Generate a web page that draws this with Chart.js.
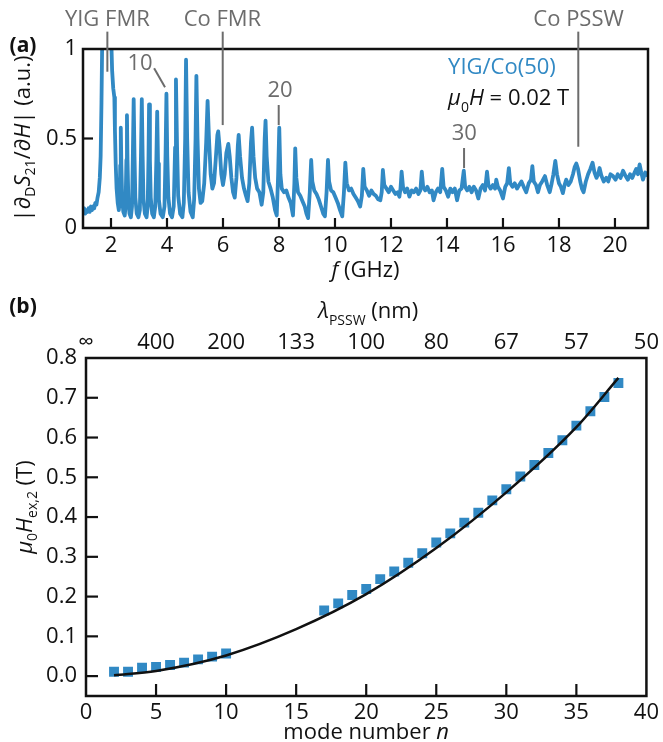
<!DOCTYPE html>
<html>
<head>
<meta charset="utf-8">
<script src="https://cdn.jsdelivr.net/npm/chart.js@4.4.1/dist/chart.umd.min.js"></script>
<style>
  html, body { margin: 0; padding: 0; background: #fff; }
  #wrap { position: relative; width: 663px; height: 742px; overflow: hidden; }
  canvas { position: absolute; left: 0; }
  #spec { top: 0; }
  #modes { top: 285px; }
</style>
</head>
<body>
<div id="wrap">
  <canvas id="spec" width="663" height="285"></canvas>
  <canvas id="modes" width="663" height="457"></canvas>
</div>
<script>
// (a) spectrum |dS21/dH| vs f
const freqGHz = [
  1.00,1.04,1.08,1.12,1.16,1.20,1.24,1.28,1.32,1.36,
  1.40,1.44,1.48,1.52,1.56,1.60,1.63,1.66,1.69,1.74,
  1.86,1.97,2.01,2.04,2.08,2.12,2.14,2.17,2.20,2.24,
  2.28,2.31,2.33,2.35,2.37,2.40,2.44,2.49,2.52,2.55,
  2.57,2.59,2.62,2.66,2.71,2.75,2.78,2.81,2.84,2.87,
  2.92,2.98,3.03,3.07,3.10,3.13,3.16,3.21,3.27,3.31,
  3.34,3.36,3.39,3.42,3.47,3.53,3.58,3.62,3.65,3.68,
  3.71,3.77,3.85,3.91,3.95,3.98,4.01,4.05,4.11,4.18,
  4.24,4.29,4.32,4.36,4.40,4.47,4.55,4.60,4.65,4.68,
  4.72,4.77,4.84,4.92,4.97,5.02,5.05,5.09,5.14,5.20,
  5.26,5.33,5.40,5.45,5.50,5.56,5.62,5.68,5.74,5.80,
  5.83,5.88,5.94,6.00,6.06,6.12,6.19,6.24,6.30,6.36,
  6.42,6.48,6.53,6.56,6.61,6.68,6.75,6.82,6.88,6.94,
  7.00,7.04,7.09,7.15,7.22,7.30,7.38,7.44,7.49,7.52,
  7.56,7.62,7.70,7.78,7.86,7.92,7.97,8.01,8.05,8.10,
  8.18,8.26,8.34,8.42,8.50,8.55,8.58,8.62,8.68,8.76,
  8.84,8.92,8.98,9.04,9.10,9.15,9.19,9.26,9.34,9.42,
  9.50,9.58,9.64,9.70,9.75,9.79,9.86,9.94,10.02,10.10,
  10.18,10.26,10.32,10.37,10.42,10.50,10.58,10.66,10.74,10.82,
  10.90,10.96,11.01,11.06,11.14,11.22,11.30,11.38,11.46,11.54,
  11.62,11.67,11.71,11.76,11.84,11.92,12.00,12.08,12.16,12.24,
  12.30,12.34,12.38,12.43,12.50,12.58,12.66,12.74,12.82,12.90,
  12.98,13.05,13.10,13.15,13.22,13.30,13.38,13.46,13.52,13.60,
  13.68,13.76,13.83,13.88,13.96,14.04,14.12,14.20,14.28,14.36,
  14.44,14.52,14.60,14.65,14.72,14.80,14.88,14.96,15.04,15.12,
  15.20,15.28,15.36,15.43,15.48,15.56,15.64,15.72,15.76,15.82,
  15.90,16.00,16.08,16.15,16.21,16.26,16.34,16.42,16.50,16.58,
  16.66,16.74,16.83,16.92,17.00,17.05,17.10,17.18,17.25,17.32,
  17.40,17.50,17.58,17.67,17.74,17.80,17.87,17.93,18.00,18.07,
  18.14,18.20,18.26,18.34,18.42,18.50,18.56,18.62,18.68,18.76,
  18.82,18.88,18.96,19.04,19.12,19.20,19.27,19.34,19.40,19.45,
  19.52,19.60,19.69,19.76,19.84,19.93,20.02,20.10,20.20,20.29,
  20.38,20.46,20.54,20.62,20.70,20.76,20.82,20.88,20.94,21.00,
  21.08,21.18
];
const dSdH = [
  .09,.11,.08,.10,.09,.11,.09,.12,.10,.12,
  .11,.14,.13,.17,.20,.28,.40,.70,1.10,1.50,
  1.60,1.50,1.05,.88,.78,.73,.55,.35,.22,.14,
  .10,.15,.35,.56,.35,.16,.09,.07,.12,.38,
  .63,.38,.16,.08,.06,.12,.40,.72,.40,.17,
  .08,.06,.10,.40,.72,.40,.16,.08,.06,.12,
  .40,.69,.38,.17,.08,.06,.12,.38,.65,.36,
  .16,.08,.06,.12,.42,.75,.40,.17,.08,.06,
  .12,.45,.83,.45,.18,.08,.06,.14,.50,.94,
  .50,.20,.09,.06,.16,.50,.85,.50,.22,.14,
  .15,.25,.48,.71,.50,.30,.22,.25,.38,.52,
  .54,.45,.30,.24,.30,.42,.47,.40,.28,.20,
  .17,.28,.46,.52,.40,.28,.22,.18,.15,.25,
  .48,.56,.40,.28,.22,.20,.13,.20,.50,.60,
  .40,.26,.22,.17,.10,.07,.30,.56,.30,.22,
  .20,.21,.17,.14,.07,.25,.445,.28,.20,.18,
  .15,.12,.08,.055,.20,.38,.26,.21,.19,.16,
  .12,.08,.065,.20,.38,.26,.21,.20,.17,.14,
  .10,.065,.20,.365,.25,.21,.22,.19,.17,.15,
  .12,.18,.33,.23,.21,.18,.21,.19,.18,.16,
  .155,.20,.324,.24,.22,.20,.23,.21,.19,.20,
  .175,.22,.315,.23,.20,.22,.175,.21,.20,.22,
  .19,.21,.315,.23,.21,.23,.20,.21,.155,.20,
  .22,.20,.33,.23,.21,.175,.22,.20,.22,.155,
  .21,.22,.32,.23,.21,.23,.20,.23,.21,.165,
  .22,.24,.21,.315,.24,.22,.24,.22,.27,.23,
  .21,.165,.23,.25,.335,.25,.23,.25,.22,.24,
  .26,.23,.20,.25,.27,.345,.26,.24,.20,.24,
  .26,.29,.24,.20,.25,.30,.375,.30,.25,.23,
  .195,.24,.27,.24,.26,.30,.34,.36,.33,.26,
  .22,.20,.26,.30,.33,.365,.31,.28,.30,.335,
  .29,.26,.28,.26,.30,.29,.27,.30,.28,.32,
  .29,.27,.30,.28,.31,.33,.30,.355,.31,.27,
  .31,.29
];
const fTicks = [2, 4, 6, 8, 10, 12, 14, 16, 18, 20];
const sigTicks = [0, 0.5, 1];

// (b) exchange field vs mode number
const modeN = [2, 3, 4, 5, 6, 7, 8, 9, 10, 17, 18, 19, 20, 21, 22, 23, 24, 25, 26, 27,
  28, 29, 30, 31, 32, 33, 34, 35, 36, 37, 38];
const hEx2 = [0.011, 0.011, 0.021, 0.023, 0.028, 0.034, 0.042, 0.049, 0.057,
  0.165, 0.183, 0.204, 0.219, 0.244, 0.263, 0.285, 0.309, 0.336, 0.359, 0.386,
  0.411, 0.442, 0.470, 0.502, 0.531, 0.561, 0.593, 0.630, 0.666, 0.702, 0.737];
const fitN = [2, 5, 10, 15, 20, 25, 30, 35, 38];
const fitH = [0.002, 0.013, 0.052, 0.118, 0.206, 0.322, 0.462, 0.626, 0.75];
const nTicks = [0, 5, 10, 15, 20, 25, 30, 35, 40];
const hTicks = [0, 0.1, 0.2, 0.3, 0.4, 0.5, 0.6, 0.7, 0.8];
const lambdaLabels = ['∞', '400', '200', '133', '100', '80', '67', '57', '50'];

const BLUE = '#3189c4';
const GREY = '#6c6c6c';
const FONT = '"Open Sans", "DejaVu Sans", sans-serif';

// draws text made of runs (italic / subscript pieces)
function drawRuns(ctx, runs, x, y, o = {}) {
  const size = o.size || 22;
  const fontFor = r => `${r.it ? 'italic ' : ''}${r.b ? 'bold ' : ''}${r.sub ? Math.round(size * 0.62) : size}px ${FONT}`;
  let w = 0;
  runs.forEach(r => { ctx.font = fontFor(r); r.w = ctx.measureText(r.t).width; w += r.w; });
  ctx.save();
  ctx.translate(x, y);
  if (o.rotate) ctx.rotate(-Math.PI / 2);
  let cx = o.align === 'left' ? 0 : o.align === 'right' ? -w : -w / 2;
  ctx.textAlign = 'left';
  ctx.textBaseline = o.baseline || 'alphabetic';
  ctx.fillStyle = o.color || '#111';
  runs.forEach(r => {
    ctx.font = fontFor(r);
    ctx.fillText(r.t, cx, r.sub ? size * 0.3 : 0);
    cx += r.w;
  });
  ctx.restore();
}

function seg(ctx, x1, y1, x2, y2) {
  ctx.beginPath(); ctx.moveTo(x1, y1); ctx.lineTo(x2, y2); ctx.stroke();
}

function frameAndTicks(chart, xs, ys, len) {
  const { ctx, chartArea: a } = chart;
  ctx.save();
  ctx.strokeStyle = '#111';
  ctx.lineWidth = 2.5;
  ctx.strokeRect(a.left, a.top, a.right - a.left, a.bottom - a.top);
  ctx.lineWidth = 2.2;
  xs.forEach(v => { const p = chart.scales.x.getPixelForValue(v); seg(ctx, p, a.bottom, p, a.bottom - len); });
  ys.forEach(v => { const p = chart.scales.y.getPixelForValue(v); seg(ctx, a.left, p, a.left + len, p); });
  ctx.restore();
}

// annotation marks of panel (a), in data units
const specNotes = [
  { text: '10', tx: 3.04, ty: 0.916, line: [3.54, 0.892, 3.93, 0.786] },
  { text: '20', tx: 8.04, ty: 0.765, line: [7.99, 0.687, 7.99, 0.575] },
  { text: '30', tx: 14.62, ty: 0.528, line: [14.61, 0.447, 14.61, 0.335] },
  { text: 'YIG FMR', tx: 1.87, ty: 1.162, line: [1.87, 1.097, 1.87, 0.873] },
  { text: 'Co FMR', tx: 5.98, ty: 1.162, line: [5.99, 1.097, 5.99, 0.575] },
  { text: 'Co PSSW', tx: 18.70, ty: 1.162, line: [18.69, 1.097, 18.69, 0.454] }
];

const specDecor = {
  id: 'specDecor',
  afterDraw(chart) {
    const { ctx, chartArea: a, scales: { x, y } } = chart;
    frameAndTicks(chart, fTicks.slice(0), [0.5], 10);
    ctx.save();
    ctx.strokeStyle = GREY;
    ctx.lineWidth = 2;
    specNotes.forEach(n => {
      const l = n.line;
      seg(ctx, x.getPixelForValue(l[0]), y.getPixelForValue(l[1]), x.getPixelForValue(l[2]), y.getPixelForValue(l[3]));
      drawRuns(ctx, [{ t: n.text }], x.getPixelForValue(n.tx), y.getPixelForValue(n.ty), { baseline: 'middle', color: GREY });
    });
    ctx.restore();
    drawRuns(ctx, [{ t: 'YIG/Co(50)' }], x.getPixelForValue(14.04), y.getPixelForValue(0.897), { align: 'left', baseline: 'middle', color: BLUE });
    drawRuns(ctx, [{ t: 'μ', it: 1 }, { t: '0', sub: 1 }, { t: 'H', it: 1 }, { t: ' = 0.02 T' }],
      x.getPixelForValue(14.04), y.getPixelForValue(0.687), { align: 'left' });
    drawRuns(ctx, [{ t: '|∂' }, { t: 'D', sub: 1 }, { t: 'S', it: 1 }, { t: '21', sub: 1 }, { t: '/∂' }, { t: 'H', it: 1 }, { t: '| (a.u.)' }],
      24, (a.top + a.bottom) / 2, { rotate: true, baseline: 'middle' });
    drawRuns(ctx, [{ t: 'f', it: 1 }, { t: ' (GHz)' }], (a.left + a.right) / 2, 277);
    drawRuns(ctx, [{ t: '(a)', b: 1 }], 23, 52, { size: 21 });
  }
};

const modesDecor = {
  id: 'modesDecor',
  afterDraw(chart) {
    const { ctx, chartArea: a } = chart;
    frameAndTicks(chart, nTicks.slice(1, -1), hTicks.slice(0, -1), 12);
    drawRuns(ctx, [{ t: 'μ', it: 1 }, { t: '0', sub: 1 }, { t: 'H', it: 1 }, { t: 'ex,2', sub: 1 }, { t: ' (T)' }],
      26, (a.top + a.bottom) / 2 - 20, { rotate: true, baseline: 'middle' });
    drawRuns(ctx, [{ t: 'mode number ' }, { t: 'n', it: 1 }], (a.left + a.right) / 2, 454);
    drawRuns(ctx, [{ t: 'λ', it: 1 }, { t: 'PSSW', sub: 1 }, { t: ' (nm)' }], (a.left + a.right) / 2 + 2, 33);
    drawRuns(ctx, [{ t: '(b)', b: 1 }], 23, 28, { size: 21 });
  }
};

function fixedTicks(list) {
  return s => { s.ticks = list.map(v => ({ value: v })); };
}

const tickFont = { family: FONT, size: 22 };
Chart.defaults.color = '#111';

new Chart(document.getElementById('spec'), {
  type: 'line',
  data: {
    datasets: [{
      data: freqGHz.map((f, i) => ({ x: f, y: dSdH[i] })),
      borderColor: BLUE,
      borderWidth: 3.8,
      pointRadius: 0,
      tension: 0,
      borderJoinStyle: 'round'
    }]
  },
  options: {
    responsive: false,
    animation: false,
    devicePixelRatio: 1,
    layout: { padding: { left: 0, right: 15, top: 49, bottom: 0 } },
    plugins: { legend: { display: false }, tooltip: { enabled: false } },
    scales: {
      x: {
        type: 'linear', min: 1, max: 21.18,
        afterBuildTicks: fixedTicks(fTicks),
        afterFit: s => { s.height = 57; },
        grid: { display: false, drawTicks: false },
        border: { display: false },
        ticks: { font: tickFont, padding: 5, maxRotation: 0 }
      },
      y: {
        min: 0, max: 1,
        afterBuildTicks: fixedTicks(sigTicks),
        afterFit: s => { s.width = 83; },
        grid: { display: false, drawTicks: false },
        border: { display: false },
        ticks: { font: tickFont, padding: 6, callback: v => String(v) }
      }
    }
  },
  plugins: [specDecor]
});

new Chart(document.getElementById('modes'), {
  type: 'scatter',
  data: {
    datasets: [{
      type: 'line',
      data: fitN.map((n, i) => ({ x: n, y: fitH[i] })),
      borderColor: '#111',
      borderWidth: 2.5,
      pointRadius: 0,
      cubicInterpolationMode: 'monotone'
    }, {
      data: modeN.map((n, i) => ({ x: n, y: hEx2[i] })),
      backgroundColor: BLUE,
      borderWidth: 0,
      pointStyle: 'rect',
      pointRadius: 7
    }]
  },
  options: {
    responsive: false,
    animation: false,
    devicePixelRatio: 1,
    layout: { padding: { left: 0, right: 14, top: 0, bottom: 0 } },
    plugins: { legend: { display: false }, tooltip: { enabled: false } },
    scales: {
      x: {
        type: 'linear', min: 0, max: 40,
        afterBuildTicks: fixedTicks(nTicks),
        afterFit: s => { s.height = 46; },
        grid: { display: false, drawTicks: false },
        border: { display: false },
        ticks: { font: tickFont, padding: 4, maxRotation: 0 }
      },
      x2: {
        type: 'linear', position: 'top', min: 0, max: 40,
        afterBuildTicks: fixedTicks(nTicks),
        afterFit: s => { s.height = 73; },
        grid: { display: false, drawTicks: false },
        border: { display: false },
        ticks: { font: tickFont, padding: 2, maxRotation: 0, callback: (v, i) => lambdaLabels[i] }
      },
      y: {
        min: -0.05, max: 0.8,
        afterBuildTicks: fixedTicks(hTicks),
        afterFit: s => { s.width = 86; },
        grid: { display: false, drawTicks: false },
        border: { display: false },
        ticks: { font: tickFont, padding: 9, callback: v => v.toFixed(1) }
      }
    }
  },
  plugins: [modesDecor]
});
</script>
</body>
</html>
